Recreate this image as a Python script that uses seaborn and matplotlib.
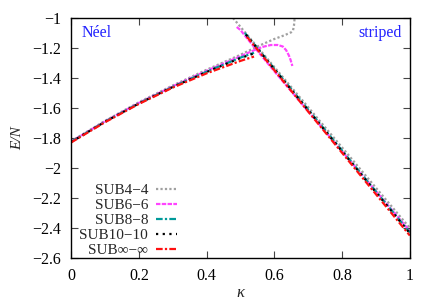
import numpy as np
import pandas as pd
import seaborn as sns
import matplotlib
matplotlib.use('Agg')
import matplotlib.pyplot as plt
from matplotlib.ticker import FuncFormatter, MultipleLocator

sns.set_style('ticks')
plt.rcParams['font.family'] = ['Liberation Serif', 'DejaVu Serif']

labels = ['SUB4\u22124', 'SUB6\u22126', 'SUB8\u22128', 'SUB10\u221210', 'SUB\u221e\u2212\u221e']
colors = ['#a0a0a0', '#ff44ff', '#009a9a', '#000000', '#ff1010']
styles = [(0, (1, 1)), (0, (2, 0.6)), (0, (3, 1, 1, 1)), (0, (1, 2)), (0, (3, 1, 1, 1))]

# Neel branch, one list per series
neel_k = [
    [0.0, 0.1, 0.2, 0.3, 0.4, 0.5, 0.55, 0.6, 0.63, 0.65, 0.655, 0.658, 0.66],
    [0.0, 0.1, 0.2, 0.3, 0.4, 0.5, 0.55, 0.57, 0.59, 0.61, 0.625, 0.635, 0.643, 0.648, 0.652, 0.653],
    [0.0, 0.1, 0.2, 0.3, 0.4, 0.5, 0.54],
    [0.0, 0.1, 0.2, 0.3, 0.4, 0.5, 0.54],
    [0.0, 0.1, 0.2, 0.3, 0.4, 0.5, 0.54],
]
neel_e = [
    [-1.822, -1.686, -1.562, -1.450, -1.345, -1.245, -1.190, -1.140, -1.115, -1.095, -1.085, -1.05, -1.00],
    [-1.824, -1.689, -1.566, -1.455, -1.352, -1.255, -1.205, -1.190, -1.180, -1.180, -1.190, -1.215, -1.250, -1.280, -1.310, -1.320],
    [-1.826, -1.691, -1.569, -1.459, -1.358, -1.264, -1.232],
    [-1.827, -1.692, -1.570, -1.460, -1.360, -1.267, -1.236],
    [-1.830, -1.695, -1.573, -1.464, -1.369, -1.286, -1.257],
]

# striped branch
stripe_k = [
    [0.478, 0.5, 0.6, 0.7, 0.8, 0.9, 1.0],
    [0.489, 0.5, 0.52, 0.6, 0.7, 0.8, 0.9, 1.0],
    [0.513, 0.6, 0.7, 0.8, 0.9, 1.0],
    [0.516, 0.6, 0.7, 0.8, 0.9, 1.0],
    [0.519, 0.6, 0.7, 0.8, 0.9, 1.0],
]
stripe_e = [
    [-1.000, -1.059, -1.327, -1.595, -1.863, -2.132, -2.400],
    [-1.060, -1.080, -1.137, -1.355, -1.622, -1.889, -2.155, -2.420],
    [-1.100, -1.338, -1.611, -1.884, -2.157, -2.430],
    [-1.110, -1.342, -1.615, -1.889, -2.162, -2.435],
    [-1.125, -1.348, -1.624, -1.899, -2.175, -2.450],
]

fig = plt.figure(figsize=(4.36, 3.05), dpi=100)
ax = fig.add_axes([0.163, 0.154, 0.777, 0.787])

for i in range(len(labels)):
    df_n = pd.DataFrame({'k': neel_k[i], 'E': neel_e[i]})
    df_s = pd.DataFrame({'k': stripe_k[i], 'E': stripe_e[i]})
    sns.lineplot(data=df_n, x='k', y='E', sort=False, estimator=None, ax=ax,
                 color=colors[i], linestyle=styles[i], linewidth=1.6, label=labels[i])
    sns.lineplot(data=df_s, x='k', y='E', sort=False, estimator=None, ax=ax,
                 color=colors[i], linestyle=styles[i], linewidth=1.6)

ax.set_xlim(0, 1)
ax.set_ylim(-2.6, -1)
ax.xaxis.set_major_locator(MultipleLocator(0.2))
ax.yaxis.set_major_locator(MultipleLocator(0.2))
fmt = FuncFormatter(lambda v, p: ('%g' % round(v, 2)).replace('-', '\u2212'))
ax.xaxis.set_major_formatter(fmt)
ax.yaxis.set_major_formatter(fmt)
ax.tick_params(direction='in', length=5, width=0.8, top=True, right=True,
               labelsize=11.5, pad=7, colors='#444444', labelcolor='black')
for s in ax.spines.values():
    s.set_visible(True)
    s.set_linewidth(1.0)
    s.set_color('black')

ax.set_xlabel('\u03ba', fontsize=12, style='italic', labelpad=1)
ax.set_ylabel('E/N', fontsize=11, style='italic', labelpad=6)

ax.text(0.03, -1.1, 'N\u00e9el', color='#2222ff', fontsize=11.5, va='center', ha='left')
ax.text(0.975, -1.1, 'striped', color='#2222ff', fontsize=11.5, va='center', ha='right')

leg = ax.legend(loc='lower right', bbox_to_anchor=(0.345, -0.04), markerfirst=False,
                frameon=False, fontsize=11, handlelength=1.4, handletextpad=0.5,
                labelspacing=0.08, borderaxespad=0.3)

fig.savefig('out.png', dpi=100)
